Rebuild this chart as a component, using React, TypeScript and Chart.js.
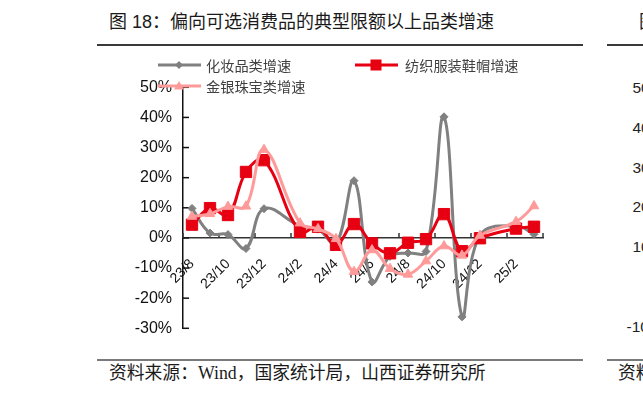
import React, { useEffect, useRef } from "react";
import { Chart, registerables } from "chart.js";

Chart.register(...registerables);

// ---- data ----
const categories = [
  "23/8", "23/9", "23/10", "23/11", "23/12", "24/1", "24/2", "24/3", "24/4", "24/5",
  "24/6", "24/7", "24/8", "24/9", "24/10", "24/11", "24/12", "25/1", "25/2", "25/3",
];
const tickLabels = ["23/8", "23/10", "23/12", "24/2", "24/4", "24/6", "24/8", "24/10", "24/12", "25/2"];
const seriesNames = ["化妆品类增速", "纺织服装鞋帽增速", "金银珠宝类增速"];
const cosmetics = [9.8, 1.6, 1.1, -3.5, 9.7, null, 4.0, 2.9, -2.0, 19.0, -14.6, -6.1, -5.0, -4.5, 40.2, -26.2, 0.9, null, 4.0, 1.2];
const textiles = [4.4, 9.9, 7.6, 21.9, 25.8, null, 2.0, 3.7, -2.3, 4.6, -1.8, -5.1, -1.6, -0.4, 7.9, -4.4, -0.1, null, 3.1, 3.7];
const jewelry = [7.1, 8.0, 10.4, 10.5, 29.3, null, 4.9, 3.0, -0.3, -11.2, -4.0, -10.2, -12.1, -7.7, -2.7, -5.8, 0.8, null, 5.4, 10.6];
const yMin = -30;
const yMax = 50;
const yStep = 10;
const rightAxisLabels = ["50%", "40%", "30%", "20%", "10%", "", "-10%"];

const GRAY = "#808080";
const RED = "#E60012";
const PINK = "#FF9A9A";
const SANS = '"Liberation Sans", "Noto Sans CJK SC", sans-serif';
const CJK = '"Noto Sans CJK SC", "Liberation Sans", sans-serif';

const axisTicksPlugin = {
  id: "axisTicks",
  beforeDatasetsDraw(chart: any) {
    const { ctx } = chart;
    const xs = chart.scales.x;
    const ys = chart.scales.y;
    const y0 = ys.getPixelForValue(0);
    ctx.save();
    ctx.lineWidth = 1.5;
    ctx.strokeStyle = "#111";
    ys.ticks.forEach((t: any) => {
      const py = ys.getPixelForValue(t.value);
      ctx.beginPath();
      ctx.moveTo(ys.right, py);
      ctx.lineTo(ys.right + 6, py);
      ctx.stroke();
    });
    ctx.strokeStyle = "#333";
    for (let i = 0; i <= categories.length; i += 2) {
      const px = xs.getPixelForValue(i - 0.5);
      ctx.beginPath();
      ctx.moveTo(px, y0);
      ctx.lineTo(px, y0 - 5);
      ctx.stroke();
    }
    ctx.restore();
  },
};

function LegendIcon({ kind, color }: { kind: string; color: string }) {
  let marker: any = null;
  if (kind === "diamond") marker = <polygon points="21,3 25,7 21,11 17,7" fill={color} />;
  if (kind === "square") marker = <rect x={15.5} y={1.5} width={11} height={11} fill={color} />;
  if (kind === "triangle") marker = <polygon points="21,2 26,10.5 16,10.5" fill={color} />;
  return (
    <svg width={43} height={14} style={{ display: "block" }}>
      <line x1={0} y1={7} x2={43} y2={7} stroke={color} strokeWidth={3} />
      {marker}
    </svg>
  );
}

export default function App() {
  const canvasRef = useRef<HTMLCanvasElement | null>(null);

  useEffect(() => {
    const canvas = canvasRef.current;
    if (!canvas) return;
    const chart = new Chart(canvas, {
      type: "line",
      data: {
        labels: categories,
        datasets: [
          {
            label: seriesNames[0],
            data: cosmetics,
            borderColor: GRAY,
            backgroundColor: GRAY,
            borderWidth: 3,
            pointStyle: "rectRot",
            pointRadius: 4,
            pointBorderWidth: 1,
            tension: 0.4,
            spanGaps: true,
            order: 3,
          },
          {
            label: seriesNames[1],
            data: textiles,
            borderColor: RED,
            backgroundColor: RED,
            borderWidth: 3,
            pointStyle: "rect",
            pointRadius: 8,
            pointBorderWidth: 1,
            tension: 0.4,
            spanGaps: true,
            order: 2,
          },
          {
            label: seriesNames[2],
            data: jewelry,
            borderColor: PINK,
            backgroundColor: PINK,
            borderWidth: 3,
            pointStyle: "triangle",
            pointRadius: 5.5,
            pointBorderWidth: 1,
            tension: 0.4,
            spanGaps: true,
            order: 1,
          },
        ],
      },
      options: {
        animation: false,
        responsive: false,
        maintainAspectRatio: false,
        devicePixelRatio: 1,
        layout: { padding: { left: 0, right: 27, top: 37.3, bottom: 21.7 } },
        plugins: {
          legend: { display: false },
          tooltip: { enabled: false },
          title: { display: false },
        },
        scales: {
          x: {
            type: "category",
            position: { y: 0 } as any,
            offset: true,
            grid: { display: false, drawTicks: false },
            border: { display: true, color: "#333", width: 1.5 },
            ticks: {
              autoSkip: false,
              maxRotation: 45,
              minRotation: 45,
              padding: 18,
              color: "#111",
              font: { family: SANS, size: 14 },
              callback: (_v: any, i: number) => (tickLabels.includes(categories[i]) ? categories[i] : ""),
            },
          },
          y: {
            min: yMin,
            max: yMax,
            grid: { display: false, drawTicks: false },
            border: { display: true, color: "#111", width: 1.5 },
            ticks: {
              stepSize: yStep,
              padding: 11,
              color: "#111",
              font: { family: SANS, size: 16 },
              callback: (v: any) => `${v}%`,
            },
            afterFit: (s: any) => {
              s.width = 83;
            },
          },
        },
      },
      plugins: [axisTicksPlugin],
    });
    return () => chart.destroy();
  }, []);

  const abs = (o: any) => ({ position: "absolute", whiteSpace: "nowrap", ...o });

  return (
    <div style={{ position: "absolute", left: 0, top: 0, width: 643, height: 394, overflow: "hidden", background: "#fff" }}>
      {/* title */}
      <div style={abs({ left: 109, top: 9.7, fontFamily: SANS, fontSize: 18, lineHeight: "24px", color: "#1a1a1a" })}>
        图 18：偏向可选消费品的典型限额以上品类增速
      </div>
      <div style={abs({ left: 639, top: 9.7, fontFamily: SANS, fontSize: 18, lineHeight: "24px", color: "#1a1a1a" })}>
        图 19：
      </div>
      {/* rules */}
      <div style={abs({ left: 97, top: 44.3, width: 486, height: 1.4, background: "#3a3a3a" })} />
      <div style={abs({ left: 607, top: 44.3, width: 40, height: 1.4, background: "#3a3a3a" })} />
      <div style={abs({ left: 97, top: 359, width: 486, height: 2, background: "#7a7a7a" })} />
      <div style={abs({ left: 607, top: 359, width: 40, height: 2, background: "#7a7a7a" })} />

      {/* chart */}
      <canvas ref={canvasRef} width={470} height={300} style={abs({ left: 100, top: 50, width: 470, height: 300 })} />

      {/* legend */}
      <div style={abs({ left: 158, top: 57.5 })}><LegendIcon kind="diamond" color={GRAY} /></div>
      <div style={abs({ left: 206, top: 55.5, fontFamily: CJK, fontSize: 14.2, lineHeight: "18px", color: "#404040" })}>{seriesNames[0]}</div>
      <div style={abs({ left: 355, top: 57.5 })}><LegendIcon kind="square" color={RED} /></div>
      <div style={abs({ left: 405, top: 55.5, fontFamily: CJK, fontSize: 14.2, lineHeight: "18px", color: "#404040" })}>{seriesNames[1]}</div>
      <div style={abs({ left: 158, top: 79 })}><LegendIcon kind="triangle" color={PINK} /></div>
      <div style={abs({ left: 206, top: 77, fontFamily: CJK, fontSize: 14.2, lineHeight: "18px", color: "#404040" })}>{seriesNames[2]}</div>

      {/* partial neighbouring chart on the right */}
      {rightAxisLabels.map((t, i) => {
        if (!t) return null;
        const y = 88 + i * 39.8;
        return (
          <div key={t} style={abs({ left: t.startsWith("-") ? 626.5 : 632.5, top: y - 9, fontFamily: SANS, fontSize: 15.5, lineHeight: "18px", color: "#222" })}>
            {t}
          </div>
        );
      })}

      {/* source */}
      <div style={abs({ left: 109, top: 361, fontFamily: '"Liberation Serif", "Noto Sans CJK SC", serif', fontSize: 17.8, lineHeight: "24px", color: "#1a1a1a" })}>
        资料来源：Wind，国家统计局，山西证券研究所
      </div>
      <div style={abs({ left: 618, top: 361, fontFamily: '"Liberation Serif", "Noto Sans CJK SC", serif', fontSize: 17.8, lineHeight: "24px", color: "#1a1a1a" })}>
        资料来源
      </div>
    </div>
  );
}
